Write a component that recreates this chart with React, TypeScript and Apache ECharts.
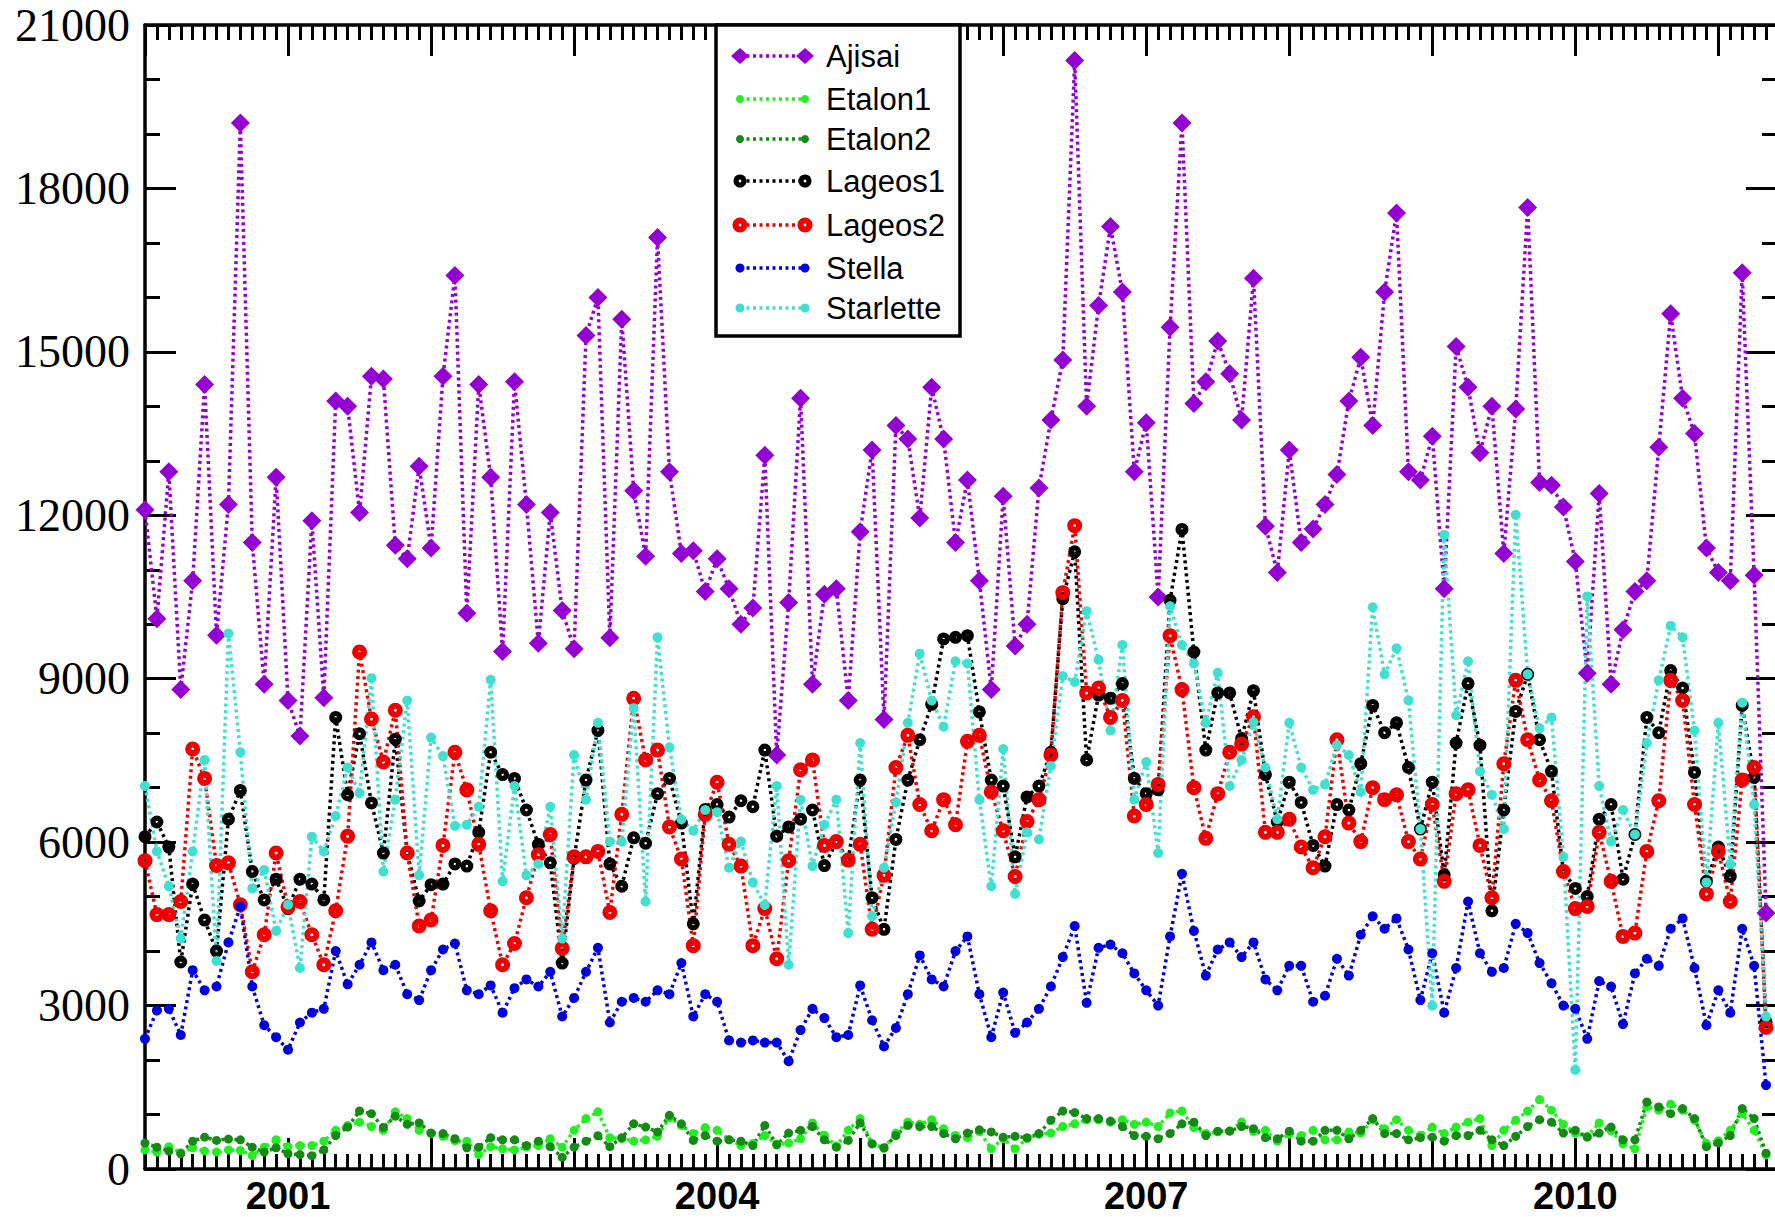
import React, { useEffect, useRef } from 'react';
import * as echarts from 'echarts';

// Monthly samples starting January 2000 (x = months since Jan 2000)
const START_YEAR = 2000;
const X_MAX_MONTHS = 136.92;
const yearLabels = [2001, 2004, 2007, 2010];
const Y_MIN = 0;
const Y_MAX = 21000;
const Y_STEP = 3000;

const ajisai = [
  12100, 10100, 12800, 8800, 10800, 14400, 9800, 12200, 19200, 11500, 8900, 12700,
  8600, 7950, 11900, 8650, 14100, 14000, 12050, 14550, 14500, 11450, 11200, 12900,
  11400, 14550, 16400, 10200, 14400, 12700, 9500, 14450, 12200, 9650, 12050, 10250,
  9550, 15300, 16000, 9750, 15600, 12450, 11250, 17100, 12800, 11300, 11350, 10600,
  11200, 10650, 10000, 10300, 13100, 7600, 10400, 14150, 8900, 10550, 10650, 8600,
  11700, 13200, 8250, 13650, 13400, 11950, 14350, 13400, 11500, 12650, 10800, 8800,
  12350, 9600, 10000, 12500, 13750, 14850, 20350, 14000, 15850, 17300, 16100, 12800,
  13700, 10500, 15450, 19200, 14050, 14450, 15200, 14600, 13750, 16350, 11800, 10950,
  13200, 11500, 11750, 12200, 12750, 14100, 14900, 13650, 16100, 17550, 12800, 12650,
  13450, 10650, 15100, 14350, 13150, 14000, 11300, 13950, 17650, 12600, 12550, 12150,
  11150, 9100, 12400, 8900, 9900, 10600, 10800, 13250, 15700, 14150, 13500, 11400,
  10950, 10800, 16450, 10900, 4700,
];

const etalon1 = [
  350, 310, 410, 300, 390, 330, 310, 350, 340, 245, 400, 535, 410, 430, 430, 510, 710, 800,
  860, 780, 710, 1050, 925, 710, 650, 600, 520, 510, 265, 410, 370, 350, 400, 430, 555, 400,
  710, 925, 1050, 575, 560, 510, 535, 600, 940, 800, 650, 760, 710, 540, 430, 470, 615, 460,
  475, 555, 845, 620, 420, 710, 925, 470, 380, 660, 860, 820, 905, 740, 615, 575, 690, 370,
  560, 370, 560, 640, 660, 780, 830, 900, 900, 860, 905, 820, 860, 780, 1030, 1065, 760,
  650, 680, 700, 860, 690, 710, 510, 640, 615, 710, 535, 535, 680, 660, 900, 740, 905, 710,
  620, 770, 650, 770, 860, 925, 430, 710, 895, 1065, 1275, 1080, 820, 660, 600, 845, 700,
  460, 370, 1140, 1080, 1190, 1080, 895, 470, 520, 710, 1015, 710, 260,
];

const etalon2 = [
  475, 400, 330, 280, 510, 585, 525, 550, 535, 400, 310, 390, 280, 265, 245, 350, 615, 770,
  1065, 1015, 760, 970, 820, 845, 660, 650, 555, 390, 400, 575, 535, 535, 430, 510, 410, 215,
  400, 510, 610, 410, 575, 830, 770, 680, 985, 830, 525, 615, 510, 535, 510, 430, 800, 445,
  660, 710, 780, 535, 400, 525, 845, 460, 390, 615, 800, 780, 780, 650, 555, 660, 720, 680,
  585, 600, 575, 650, 895, 1065, 1035, 925, 925, 880, 780, 615, 600, 555, 650, 830, 860,
  615, 695, 695, 780, 740, 575, 555, 695, 510, 510, 710, 710, 555, 710, 925, 650, 650, 535,
  575, 585, 510, 615, 615, 710, 535, 430, 600, 780, 905, 860, 660, 710, 585, 660, 770, 535,
  535, 1230, 1140, 1015, 1110, 925, 410, 475, 615, 1110, 925, 290,
];

const lageos1 = [
  6100, 6370, 5910, 3800, 5230, 4570, 4000, 6420, 6950, 5460, 4940, 5320, 4780, 5320, 5230,
  4940, 8290, 6870, 7990, 6720, 5800, 7890, 5800, 4920, 5220, 5230, 5600, 5560, 6180, 7650,
  7240, 7170, 6590, 5960, 5620, 3780, 5700, 7140, 8050, 5600, 5190, 6080, 5980, 6890, 7170,
  6350, 4500, 6600, 6690, 6460, 6760, 6650, 7690, 6110, 6280, 6420, 6590, 5570, 6000, 5670,
  7140, 4980, 4400, 6050, 7140, 7880, 8530, 9730, 9760, 9790, 8390, 7140, 7030, 5730, 6830,
  7030, 7650, 10470, 11330, 7510, 8700, 8640, 8910, 7170, 6890, 6960, 10440, 11740, 9490,
  7690, 8740, 8740, 7900, 8780, 7240, 6370, 7100, 6730, 5940, 5560, 6690, 6590, 7440, 8510,
  8010, 8190, 7370, 6240, 7100, 5400, 7820, 8910, 7780, 4740, 6590, 8400, 9080, 7880, 7300,
  5460, 5150, 5000, 6420, 6690, 5320, 6140, 8290, 8010, 9150, 8830, 7280, 5280, 5910, 5370,
  8510, 7190, 2700,
];

const lageos2 = [
  5660, 4670, 4670, 4910, 7710, 7170, 5570, 5620, 4850, 3620, 4300, 5800, 4810, 4910, 4300,
  3750, 4740, 6110, 9490, 8260, 7470, 8420, 5800, 4460, 4570, 5940, 7650, 6960, 5960, 4740,
  3750, 4140, 4980, 5770, 6140, 4050, 5730, 5730, 5830, 4710, 6510, 8640, 7510, 7690, 6280,
  5690, 4100, 6510, 7100, 5960, 5560, 4100, 4780, 3860, 5660, 7330, 7510, 5940, 6010, 5670,
  5960, 4400, 5390, 7370, 7960, 6690, 6210, 6780, 6320, 7850, 7960, 6920, 6210, 5370, 6380,
  6780, 7600, 10580, 11810, 8740, 8830, 8290, 8600, 6480, 6690, 7060, 9790, 8800, 7000, 6070,
  6890, 7650, 7800, 8300, 6180, 6180, 6420, 5910, 5530, 6100, 7880, 6350, 6010, 7000, 6780,
  6870, 6010, 5690, 6690, 5280, 6890, 6960, 5940, 4980, 7440, 8970, 7880, 7140, 6760, 5460,
  4780, 4820, 6180, 5280, 4270, 4330, 5830, 6760, 8970, 8600, 6690, 5050, 5830, 4910, 7140,
  7370, 2600,
];

const stella = [
  2390, 2910, 2940, 2460, 3650, 3280, 3350, 4160, 4820, 3350, 2640, 2420, 2190, 2690, 2870,
  2940, 4000, 3390, 3750, 4160, 3650, 3750, 3210, 3100, 3650, 4030, 4140, 3280, 3210, 3370,
  2870, 3320, 3480, 3350, 3620, 2800, 3140, 3620, 4060, 2690, 3070, 3140, 3070, 3280, 3210,
  3780, 2800, 3210, 3070, 2360, 2320, 2360, 2320, 2320, 1980, 2550, 2940, 2770, 2420, 2460,
  3370, 2730, 2250, 2590, 3210, 3920, 3480, 3350, 4000, 4270, 3210, 2420, 3240, 2500, 2690,
  2940, 3350, 3890, 4460, 3050, 4060, 4120, 3960, 3590, 3280, 3000, 4270, 5420, 4370, 3550,
  4030, 4160, 3890, 4160, 3480, 3280, 3730, 3730, 3070, 3180, 3860, 3550, 4300, 4640, 4410,
  4600, 4030, 3100, 3960, 2870, 3690, 4910, 3960, 3620, 3690, 4500, 4330, 3780, 3410, 3000,
  2940, 2390, 3450, 3350, 2660, 3590, 3860, 3730, 4410, 4600, 3690, 2640, 3280, 2870, 4410,
  3730, 1540,
];

const starlette = [
  7030, 5830, 5190, 4230, 5830, 7510, 3820, 9830, 7650, 5150, 5490, 4370, 4850, 3690, 6100,
  5830, 6480, 7370, 6900, 9010, 5460, 6780, 8600, 5390, 7920, 7580, 6300, 6320, 6650, 8980,
  5280, 7030, 5390, 5600, 6650, 4230, 7600, 6780, 8190, 6010, 6010, 8460, 4910, 9760, 7740,
  6420, 6210, 6590, 6550, 5530, 6010, 5260, 4850, 7030, 3750, 6780, 5560, 6320, 6780, 4330,
  7820, 4640, 5530, 6730, 8190, 9460, 8600, 8120, 9320, 9280, 6780, 5190, 7710, 5050, 6180,
  6050, 7400, 9050, 8940, 10240, 9350, 8050, 9620, 6780, 7470, 5800, 10330, 9620, 9280, 8190,
  9110, 7030, 7510, 8200, 7370, 6420, 8190, 7370, 6960, 7060, 7780, 7600, 6920, 10310, 9080,
  9560, 8600, 6240, 3000, 11640, 8330, 9320, 7300, 6870, 6240, 12010, 9080, 8090, 8290, 5730,
  1820, 10510, 7030, 6010, 6590, 6140, 7820, 8970, 9970, 9760, 8050, 5260, 8190, 5600, 8560,
  6690, 2800,
];

type Def = {
  name: string;
  data: number[];
  color: string;
  kind: 'diamond' | 'dot' | 'ring';
  size: number;
};

// filled disc with a small hole in the middle (Lageos markers)
const RING_PATH =
  'path://M0,-10A10,10 0 1,1 0,10A10,10 0 1,1 0,-10ZM0,-2A2,2 0 1,0 0,2A2,2 0 1,0 0,-2Z';

const defs: Def[] = [
  { name: 'Ajisai', data: ajisai, color: '#9400d3', kind: 'diamond', size: 19 },
  { name: 'Etalon1', data: etalon1, color: '#22ee22', kind: 'dot', size: 9 },
  { name: 'Etalon2', data: etalon2, color: '#138a13', kind: 'dot', size: 9 },
  { name: 'Lageos1', data: lageos1, color: '#000000', kind: 'ring', size: 13 },
  { name: 'Lageos2', data: lageos2, color: '#ee0000', kind: 'ring', size: 15 },
  { name: 'Stella', data: stella, color: '#0000dd', kind: 'dot', size: 10 },
  { name: 'Starlette', data: starlette, color: '#40e0d0', kind: 'dot', size: 10 },
];

const legendRows = [56, 99, 139, 181, 225, 268, 308];

function buildLegend() {
  const els: any[] = [];
  els.push({
    type: 'rect',
    shape: { x: 716, y: 25, width: 244, height: 311 },
    style: { fill: '#fff', stroke: '#000', lineWidth: 3.5 },
    z: 100,
  });
  defs.forEach((d, k) => {
    const y = legendRows[k];
    const x1 = 740;
    const x2 = 805;
    els.push({
      type: 'line',
      shape: { x1, y1: y, x2, y2: y },
      style: { stroke: d.color, lineWidth: 3.5, lineDash: [3, 3.5] },
      z: 101,
    });
    [x1, x2].forEach((cx) => {
      if (d.kind === 'diamond') {
        els.push({
          type: 'polygon',
          shape: { points: [[cx - 9, y], [cx, y - 8], [cx + 9, y], [cx, y + 8]] },
          style: { fill: d.color },
          z: 102,
        });
      } else if (d.kind === 'ring') {
        els.push({
          type: 'circle',
          shape: { cx, cy: y, r: d.size / 2 },
          style: { fill: d.color },
          z: 102,
        });
        els.push({
          type: 'circle',
          shape: { cx, cy: y, r: 1.4 },
          style: { fill: '#fff' },
          z: 103,
        });
      } else {
        els.push({
          type: 'circle',
          shape: { cx, cy: y, r: d.size / 2 - 0.5 },
          style: { fill: d.color },
          z: 102,
        });
      }
    });
    els.push({
      type: 'text',
      x: 826,
      y,
      style: {
        text: d.name,
        font: '31px "Liberation Sans", Arial, sans-serif',
        fill: '#000',
        verticalAlign: 'middle',
      },
      z: 102,
    });
  });
  return els;
}

const tickLine = { color: '#000', width: 3 };
const axisLine = { show: true, onZero: false, lineStyle: { color: '#000', width: 3.5 } };

export default function App() {
  const ref = useRef<HTMLDivElement>(null);
  useEffect(() => {
    if (!ref.current) return;
    const chart = echarts.init(ref.current, undefined, { renderer: 'svg' });
    const gridRect = { left: 145, top: 25, width: 1632, height: 1144 };
    const yearFmt = (v: number) => {
      const y = START_YEAR + v / 12;
      const r = Math.round(y);
      return Math.abs(y - r) < 1e-6 && yearLabels.includes(r) ? String(r) : '';
    };
    const series = defs.map((d) => ({
      name: d.name,
      type: 'line',
      xAxisIndex: 0,
      yAxisIndex: 0,
      data: d.data.map((v, i) => [i, v]),
      symbol: d.kind === 'diamond' ? 'diamond' : d.kind === 'ring' ? RING_PATH : 'circle',
      symbolSize: d.size,
      showAllSymbol: true,
      lineStyle: { color: d.color, width: 3.5, type: [3, 3.5] },
      itemStyle: { color: d.color },
      emphasis: { disabled: true },
    }));
    chart.setOption({
      animation: false,
      backgroundColor: '#fff',
      grid: [
        { ...gridRect, containLabel: false },
        { ...gridRect, containLabel: false },
      ],
      xAxis: [
        {
          gridIndex: 0, type: 'value', position: 'bottom', min: 0, max: X_MAX_MONTHS, interval: 1,
          axisLine, axisTick: { show: true, inside: true, length: 15, lineStyle: tickLine },
          axisLabel: { show: false }, splitLine: { show: false },
        },
        {
          gridIndex: 0, type: 'value', position: 'top', min: 0, max: X_MAX_MONTHS, interval: 1,
          axisLine, axisTick: { show: true, inside: true, length: 15, lineStyle: tickLine },
          axisLabel: { show: false }, splitLine: { show: false },
        },
        {
          gridIndex: 1, type: 'value', position: 'bottom', min: 0, max: X_MAX_MONTHS, interval: 12,
          axisLine: { show: false, onZero: false },
          axisTick: { show: true, inside: true, length: 31, lineStyle: tickLine },
          axisLabel: {
            show: true, formatter: yearFmt, margin: 8, color: '#000',
            fontFamily: '"Liberation Sans", Arial, sans-serif', fontWeight: 'bold', fontSize: 38,
          },
          splitLine: { show: false },
        },
        {
          gridIndex: 1, type: 'value', position: 'top', min: 0, max: X_MAX_MONTHS, interval: 12,
          axisLine: { show: false, onZero: false },
          axisTick: { show: true, inside: true, length: 31, lineStyle: tickLine },
          axisLabel: { show: false }, splitLine: { show: false },
        },
      ],
      yAxis: [
        {
          gridIndex: 0, type: 'value', position: 'left', min: Y_MIN, max: Y_MAX, interval: Y_STEP,
          axisLine, axisTick: { show: true, inside: true, length: 31, lineStyle: tickLine },
          minorTick: { show: true, splitNumber: 3, length: 15, lineStyle: tickLine },
          axisLabel: {
            show: true, margin: 15, color: '#000',
            formatter: (v: number) => String(v),
            fontFamily: '"Liberation Serif", "Times New Roman", serif', fontSize: 46,
          },
          splitLine: { show: false }, minorSplitLine: { show: false },
        },
        {
          gridIndex: 0, type: 'value', position: 'right', min: Y_MIN, max: Y_MAX, interval: Y_STEP,
          axisLine, axisTick: { show: true, inside: true, length: 31, lineStyle: tickLine },
          minorTick: { show: true, splitNumber: 3, length: 15, lineStyle: tickLine },
          axisLabel: { show: false }, splitLine: { show: false }, minorSplitLine: { show: false },
        },
        { gridIndex: 1, type: 'value', show: false, min: Y_MIN, max: Y_MAX },
      ],
      series,
      graphic: buildLegend(),
    });
    return () => chart.dispose();
  }, []);
  return (
    <div
      style={{
        position: 'absolute', left: 0, top: 0, width: 1775, height: 1217,
        overflow: 'hidden', background: '#fff',
      }}
    >
      <div ref={ref} style={{ width: 1790, height: 1217 }} />
    </div>
  );
}
